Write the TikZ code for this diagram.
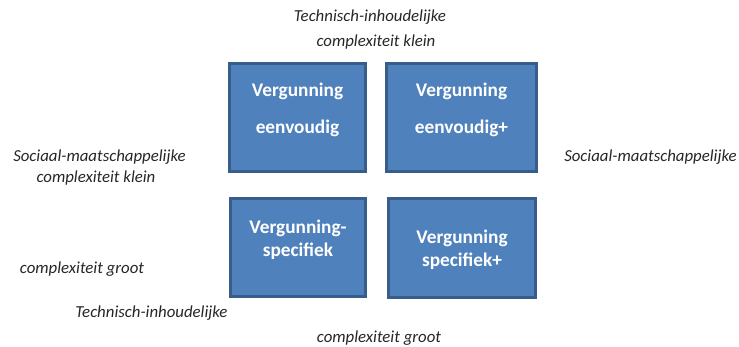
\documentclass[tikz,border=0pt]{standalone}
\usepackage{fontspec}
\setmainfont{Carlito}
\usetikzlibrary{positioning}
\definecolor{vakblauw}{HTML}{4F81BD}
\definecolor{vakrand}{HTML}{385D8A}
\definecolor{tekstgrijs}{HTML}{262626}

\begin{document}
\begin{tikzpicture}[x = 1pt, y = -1pt,
		vak/.style = {draw = vakrand, fill = vakblauw, line width = 3pt, inner sep = 0pt},
		vaktekst/.style = {text = white, font = \fontsize{19.3}{23}\selectfont\bfseries, align = center},
		as/.style = {text = tekstgrijs, font = \fontsize{16.8}{20}\selectfont\itshape, anchor = base}]
		\useasboundingbox (0,0) rectangle (739,347);
		% de vier vakken
		\node[vak, minimum width = 136pt, minimum height = 108pt] (eenv) at (297.5,117.5) {};
		\node[vak, minimum width = 150pt, minimum height = 108pt] (eenvplus) at (461.5,117.5) {};
		\node[vak, minimum width = 135pt, minimum height = 98pt] (spec) at (298,247.5) {};
		\node[vak, minimum width = 147pt, minimum height = 99pt] (specplus) at (462,248) {};
		\node[vaktekst] (eenvtekst) at (297.5,110.3) {Vergunning\\[14pt]eenvoudig};
		\node[vaktekst] (eenvplustekst) at (461.5,110.3) {Vergunning\\[14pt]eenvoudig+};
		\node[vaktekst] (spectekst) at (298,239.3) {Vergunning-\\specifiek};
		\node[vaktekst] (specplustekst) at (462,249.3) {Vergunning\\specifiek+};
		% assen
		\node[as] (boven1) at (370,22) {Technisch-inhoudelijke};
		\node[as] (boven2) at (376,47) {complexiteit klein};
		\node[as] (links1) at (99.5,162) {Sociaal-maatschappelijke};
		\node[as] (links2) at (96,183) {complexiteit klein};
		\node[as] (rechts) at (650.5,162) {Sociaal-maatschappelijke};
		\node[as] (links3) at (82,274) {complexiteit groot};
		\node[as] (links4) at (151.5,318) {Technisch-inhoudelijke};
		\node[as] (onder) at (379,342) {complexiteit groot};
	\end{tikzpicture}
\end{document}
